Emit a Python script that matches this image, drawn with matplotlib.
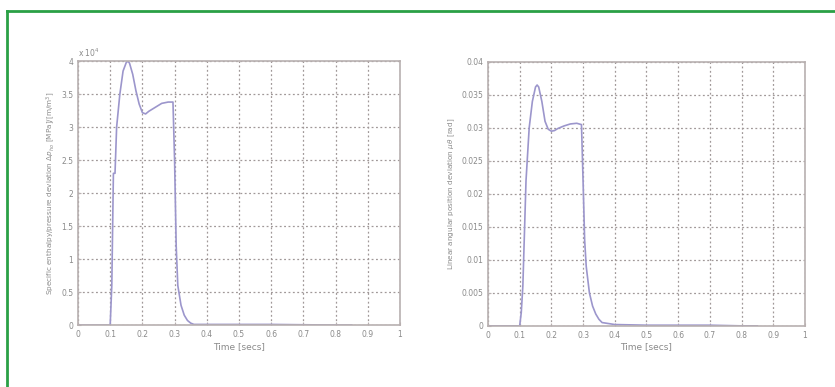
import matplotlib.pyplot as plt
import numpy as np

# time samples and readings
t = [0, 0.05, 0.1, 0.105, 0.11, 0.115, 0.12, 0.13, 0.14, 0.15, 0.155, 0.16, 0.17, 0.18, 0.19,
     0.2, 0.21, 0.22, 0.24, 0.26, 0.28, 0.295, 0.3, 0.305, 0.31, 0.32, 0.33, 0.34, 0.35,
     0.36, 0.4, 0.5, 0.6, 0.7, 0.8, 0.85]
dh = [0, 0, 0, 0.6, 2.3, 2.3, 3.0, 3.5, 3.85, 3.98, 4.0, 3.97, 3.8, 3.55, 3.35,
      3.22, 3.2, 3.24, 3.3, 3.36, 3.38, 3.38, 2.5, 1.2, 0.6, 0.3, 0.15, 0.07, 0.03,
      0.01, 0.01, 0.01, 0.01, 0.005, 0.0, 0.0]
dth = [0, 0, 0, 0.002, 0.006, 0.014, 0.022, 0.03, 0.034, 0.0362, 0.0365, 0.0362, 0.034, 0.031, 0.0298,
       0.0295, 0.0296, 0.0299, 0.0303, 0.0306, 0.0307, 0.0305, 0.022, 0.013, 0.009, 0.005, 0.003, 0.0018, 0.001,
       0.0005, 0.0002, 0.0001, 0.0001, 0.0001, 0.0, 0.0]

xticks = [0, 0.1, 0.2, 0.3, 0.4, 0.5, 0.6, 0.7, 0.8, 0.9, 1]
xlabels = ['0', '0.1', '0.2', '0.3', '0.4', '0.5', '0.6', '0.7', '0.8', '0.9', '1']
y1ticks = [0, 0.5, 1, 1.5, 2, 2.5, 3, 3.5, 4]
y1labels = ['0', '0.5', '1', '1.5', '2', '2.5', '3', '3.5', '4']
y2ticks = [0, 0.005, 0.01, 0.015, 0.02, 0.025, 0.03, 0.035, 0.04]
y2labels = ['0', '0.005', '0.01', '0.015', '0.02', '0.025', '0.03', '0.035', '0.04']

fig = plt.figure(figsize=(8.35, 3.87), dpi=100)
box = '#b8b0b0'
txt = '#8a8a8a'
line = '#9c96cc'

# green frame (left and top)
fig.add_artist(plt.Line2D([0.008, 0.008], [0, 0.971], color='#2aa045', lw=2))
fig.add_artist(plt.Line2D([0.008, 1.0], [0.971, 0.971], color='#2aa045', lw=2))

ax1 = fig.add_axes([0.0934, 0.160, 0.3856, 0.682])
ax2 = fig.add_axes([0.5844, 0.158, 0.3796, 0.682])

for ax, y, yt, yl, lab, top in [
        (ax1, dh, y1ticks, y1labels,
         'Specific enthalpy/pressure deviation $\\Delta p_{ho}$ [MPa]/[m/m$^3$]', 4),
        (ax2, dth, y2ticks, y2labels,
         'Linear angular position deviation $\\mu\\theta$ [rad]', 0.04)]:
    ax.plot(t, y, color=line, lw=1.2)
    ax.set_xlim(0, 1)
    ax.set_ylim(0, top)
    ax.set_xticks(xticks)
    ax.set_xticklabels(xlabels)
    ax.set_yticks(yt)
    ax.set_yticklabels(yl)
    ax.grid(True, linestyle=(0, (1.5, 2)), color='#a09898', lw=0.9)
    ax.tick_params(labelsize=5.5, colors=box, labelcolor=txt, length=2, direction='in')
    for s in ax.spines.values():
        s.set_color(box)
        s.set_linewidth(1.2)
    ax.set_xlabel('Time [secs]', fontsize=6.5, color=txt, labelpad=2)
    ax.set_ylabel(lab, fontsize=5.2, color=txt, labelpad=3)

ax1.text(0.0, 1.01, 'x 10$^4$', transform=ax1.transAxes, fontsize=5.5, color=txt, ha='left', va='bottom')

fig.savefig('out.png', dpi=100)
